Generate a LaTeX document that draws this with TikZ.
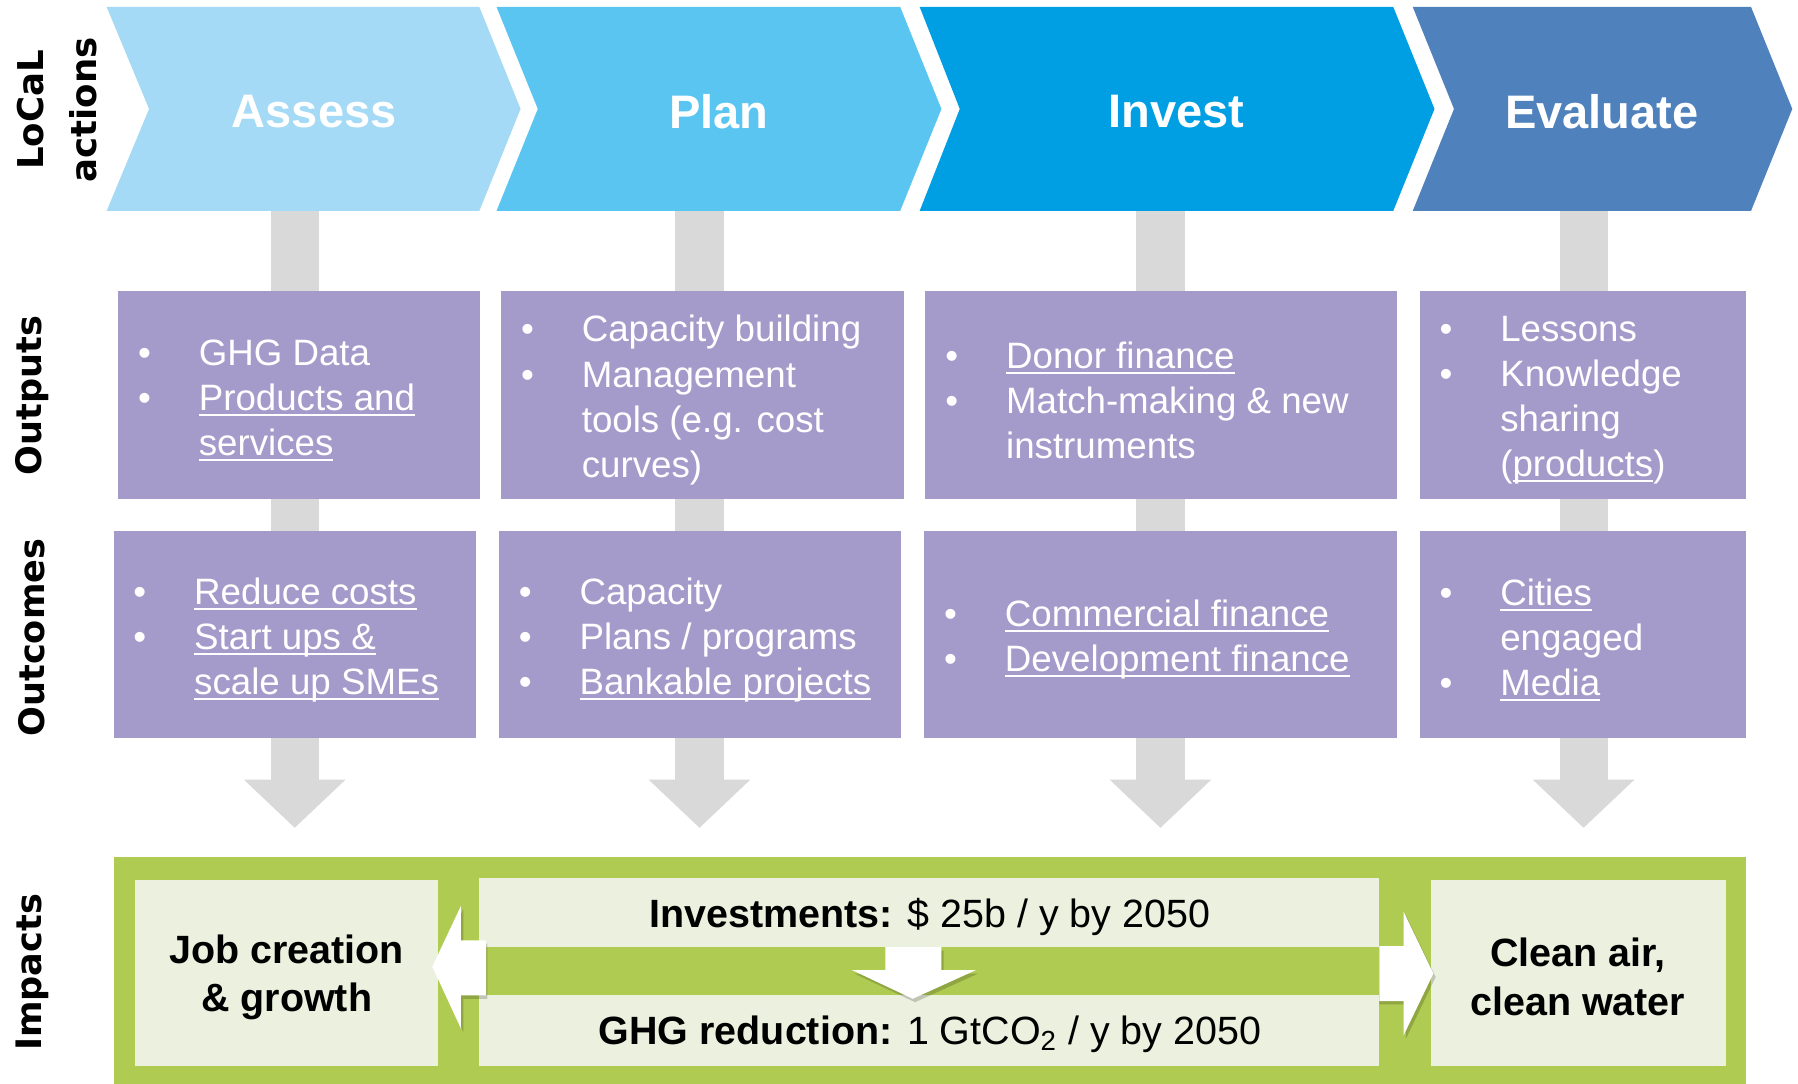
\documentclass[tikz,border=0pt]{standalone}
\usepackage{fontspec}
\setmainfont{Liberation Sans}
\newfontfamily\labfont{DejaVu Sans}
\usetikzlibrary{arrows.meta}
\definecolor{assessC}{RGB}{164,218,245}
\definecolor{planC}{RGB}{91,197,242}
\definecolor{investC}{RGB}{0,159,227}
\definecolor{evalC}{RGB}{79,129,189}
\definecolor{purp}{RGB}{165,155,203}
\definecolor{barC}{RGB}{217,217,217}
\definecolor{greenC}{RGB}{176,203,82}
\definecolor{lightC}{RGB}{235,241,222}
\newcommand{\ulk}[1]{\leavevmode\setbox0\hbox{#1}\rlap{\rule[-2.4pt]{\wd0}{0.9pt}}\box0}
\newcommand{\bitem}[1]{\makebox[26.5pt][l]{\textbullet}#1}
\newcommand{\citem}[1]{\hspace*{26.5pt}#1}
\tikzset{
  chevtext/.style={text=white, font=\bfseries\fontsize{20.5}{24}\selectfont, inner sep=0},
  graybar/.style={draw=barC, line width=21pt, -{Triangle[width=43pt,length=21pt]}},
  pbox/.style={fill=purp},
  btext/.style={text=white, font=\fontsize{16}{19.7}\selectfont, align=left, inner sep=0, anchor=west},
  rowlab/.style={rotate=90, font=\labfont\bfseries\fontsize{15.3}{23}\selectfont, align=center, inner sep=0},
  lbox/.style={fill=lightC},
  imptext/.style={font=\bfseries\fontsize{17.2}{21}\selectfont, align=center, inner sep=0},
  imptext2/.style={font=\fontsize{17.2}{21}\selectfont, inner sep=0},
  warrow/.style={fill=white},
  wshadow/.style={fill=black, opacity=0.18},
}
\begin{document}
\begin{tikzpicture}[x=0.5pt,y=-0.5pt]
\useasboundingbox (0,0) rectangle (1568,945);
\fill[white] (0,0) rectangle (1568,945);

% gray connectors (behind boxes)
\coordinate (aTop) at (257,184); \coordinate (aTip) at (257,722);
\coordinate (pTop) at (610,184); \coordinate (pTip) at (610,722);
\coordinate (iTop) at (1012,184); \coordinate (iTip) at (1012,722);
\coordinate (eTop) at (1381,184); \coordinate (eTip) at (1381,722);
\draw[graybar] (aTop) -- (aTip);
\draw[graybar] (pTop) -- (pTip);
\draw[graybar] (iTop) -- (iTip);
\draw[graybar] (eTop) -- (eTip);

% chevrons
\fill[assessC] (93,6) -- (418,6) -- (454,95) -- (418,184) -- (93,184) -- (130,95) -- cycle;
\fill[planC] (433,6) -- (785,6) -- (821,95) -- (785,184) -- (433,184) -- (469,95) -- cycle;
\fill[investC] (802,6) -- (1215,6) -- (1251,95) -- (1215,184) -- (802,184) -- (837,95) -- cycle;
\fill[evalC] (1232,6) -- (1527,6) -- (1563,95) -- (1527,184) -- (1232,184) -- (1268,95) -- cycle;
\node[chevtext] (assess) at (274,97) {Assess};
\node[chevtext] (plan) at (627,97) {Plan};
\node[chevtext] (invest) at (1026,97) {Invest};
\node[chevtext] (evaluate) at (1397,97) {Evaluate};

% row labels
\node[rowlab, font=\labfont\bfseries\fontsize{15.5}{23}\selectfont] (lLocal) at (50,96) {LoCaL\\actions};
\node[rowlab] (lOut) at (28,345) {Outputs};
\node[rowlab] (lOutc) at (28,556) {Outcomes};
\node[rowlab] (lImp) at (28,848) {Impacts};

% outputs boxes
\fill[pbox] (103,254) rectangle (419,435);
\fill[pbox] (437,254) rectangle (788,435);
\fill[pbox] (807,254) rectangle (1218,435);
\fill[pbox] (1238,254) rectangle (1523,435);
\node[btext] (oA) at (120,349) {\bitem{GHG Data}\\\bitem{\ulk{Products and}}\\\citem{\ulk{services}}};
\node[btext] (oP) at (454,349) {\bitem{Capacity building}\\\bitem{Management}\\\citem{tools (e.g. cost}\\\citem{curves)}};
\node[btext] (oI) at (824,349) {\bitem{\ulk{Donor finance}}\\\bitem{Match-making \& new}\\\citem{instruments}};
\node[btext] (oE) at (1255,349) {\bitem{Lessons}\\\bitem{Knowledge}\\\citem{sharing}\\\citem{(\ulk{products})}};

% outcomes boxes
\fill[pbox] (99,463) rectangle (415,644);
\fill[pbox] (435,463) rectangle (786,644);
\fill[pbox] (806,463) rectangle (1218,644);
\fill[pbox] (1238,463) rectangle (1523,644);
\node[btext] (cA) at (116,558) {\bitem{\ulk{Reduce costs}}\\\bitem{\ulk{Start ups \&}}\\\citem{\ulk{scale up SMEs}}};
\node[btext] (cP) at (452,558) {\bitem{Capacity}\\\bitem{Plans / programs}\\\bitem{\ulk{Bankable projects}}};
\node[btext] (cI) at (823,558) {\bitem{\ulk{Commercial finance}}\\\bitem{\ulk{Development finance}}};
\node[btext] (cE) at (1255,558) {\bitem{\ulk{Cities}}\\\citem{engaged}\\\bitem{\ulk{Media}}};

% impacts
\fill[greenC] (99,747) rectangle (1523,945);
\fill[lbox] (118,767) rectangle (382,930);
\fill[lbox] (418,766) rectangle (1203,826);
\fill[lbox] (418,868) rectangle (1203,930);
\fill[lbox] (1248,767) rectangle (1505,930);

% white block arrows with shadows
\fill[wshadow] (425,823) -- (404,823) -- (404,793) -- (379,846) -- (404,900) -- (404,871) -- (425,871) -- cycle;
\fill[warrow] (424,820) -- (402,820) -- (402,790) -- (377,843) -- (402,897) -- (402,868) -- (424,868) -- cycle;
\fill[wshadow] (1203,828) -- (1226,828) -- (1226,798) -- (1252,852) -- (1226,906) -- (1226,876) -- (1203,876) -- cycle;
\fill[warrow] (1203,825) -- (1224,825) -- (1224,795) -- (1250,849) -- (1224,903) -- (1224,873) -- (1203,873) -- cycle;
\fill[wshadow] (774,829) -- (823,829) -- (823,849) -- (853,849) -- (798,874) -- (745,849) -- (774,849) -- cycle;
\fill[warrow] (772,826) -- (821,826) -- (821,846) -- (851,846) -- (796,871) -- (743,846) -- (772,846) -- cycle;

\node[imptext] (job) at (250,852) {Job creation\\\& growth};
\node[imptext] (clean) at (1376,852) {Clean air,\\clean water};
\node[imptext2] (inv) at (811,800) {\textbf{Investments:} \$ 25b / y by 2050};
\node[imptext2] (ghg) at (811,902) {\textbf{GHG reduction:} 1 GtCO\textsubscript{2} / y by 2050};
\end{tikzpicture}
\end{document}
